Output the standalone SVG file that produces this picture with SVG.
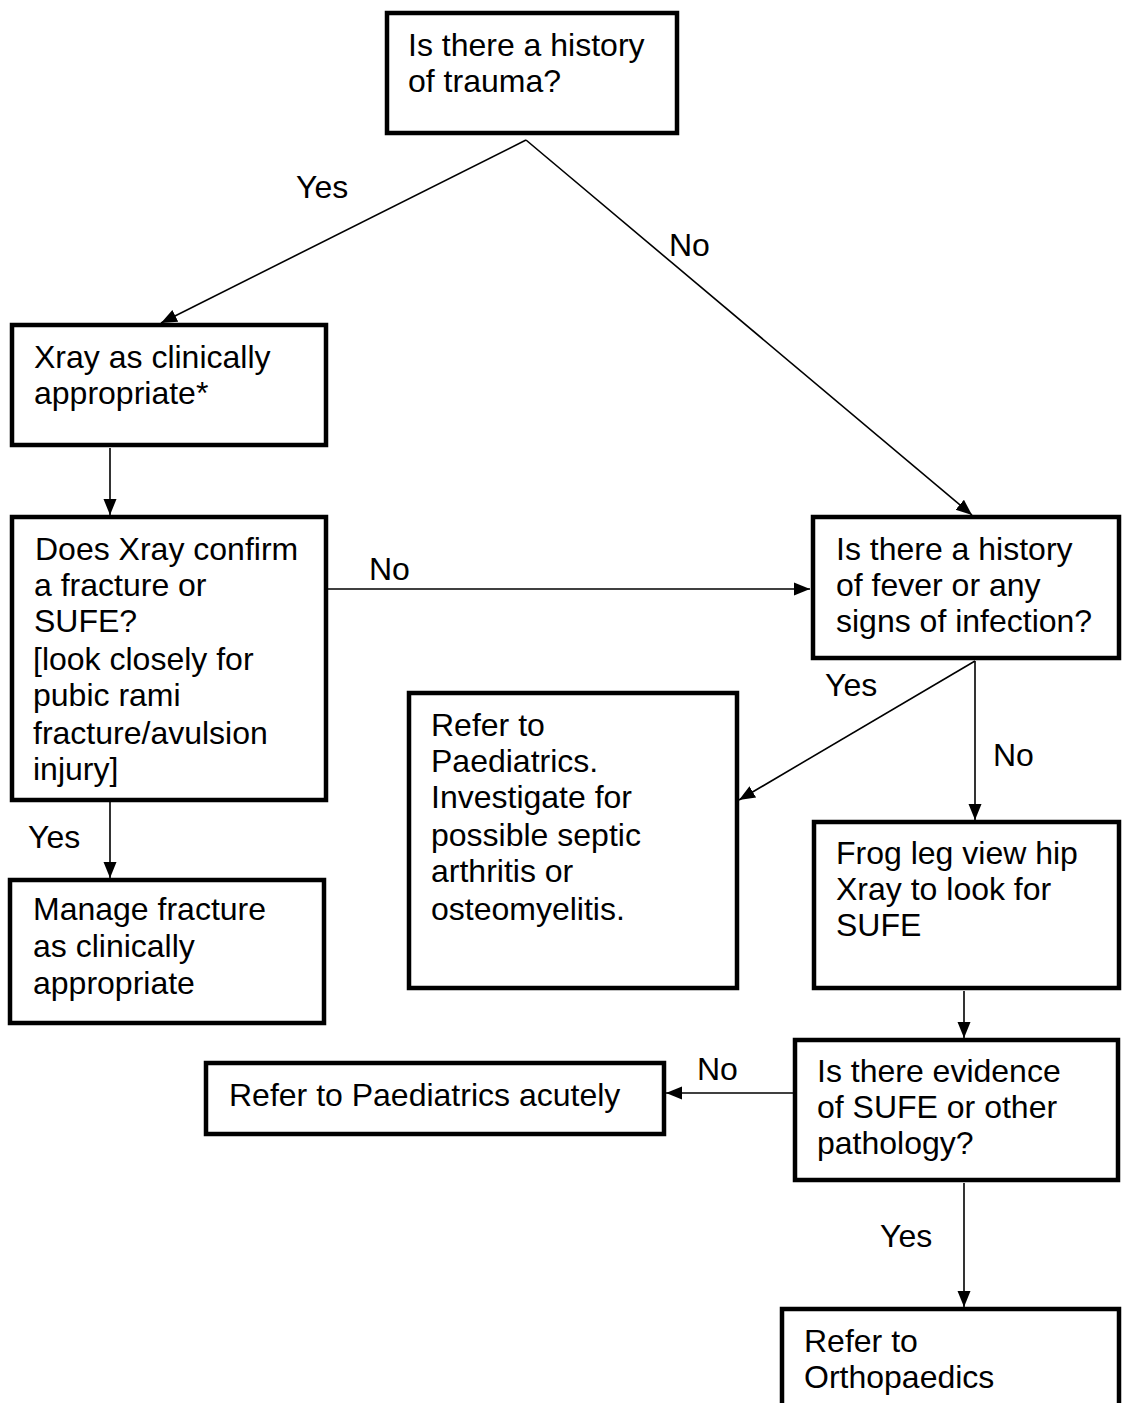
<svg xmlns="http://www.w3.org/2000/svg" width="1122" height="1403" viewBox="0 0 1122 1403">
<style>
.box{fill:#fff;stroke:#000;stroke-width:4.5}
.t{font-family:"Liberation Sans",Arial,sans-serif;font-size:32px;fill:#000}
.c{stroke:#000;stroke-width:1.6;fill:none;marker-end:url(#ah)}
</style>
<defs>
<marker id="ah" markerUnits="userSpaceOnUse" markerWidth="18" markerHeight="16" viewBox="0 0 18 16" refX="16" refY="8" orient="auto">
<path d="M0,1.5 L16,8 L0,14.5 Z" fill="#000"/>
</marker>
</defs>
<rect width="1122" height="1403" fill="#fff"/>
<g id="connectors">
<path class="c" d="M526,140 L161,323"/>
<path class="c" d="M526,140 L972,515"/>
<path class="c" d="M110,448 L110,515"/>
<path class="c" d="M328,589 L810,589"/>
<path class="c" d="M975,661 L739,800"/>
<path class="c" d="M975,661 L975,820"/>
<path class="c" d="M110,802 L110,878"/>
<path class="c" d="M964,991 L964,1038"/>
<path class="c" d="M793,1093 L666,1093"/>
<path class="c" d="M964,1183 L964,1307"/>
<text class="t" x="296" y="198">Yes</text>
<text class="t" x="669" y="256">No</text>
<text class="t" x="369" y="580">No</text>
<text class="t" x="825" y="696">Yes</text>
<text class="t" x="993" y="766">No</text>
<text class="t" x="28" y="848">Yes</text>
<text class="t" x="697" y="1080">No</text>
<text class="t" x="880" y="1247">Yes</text>
</g>
<g id="n1"><rect class="box" x="387" y="13" width="290" height="120"/>
<text class="t" x="408" y="56">Is there a history</text><text class="t" x="408" y="92">of trauma?</text></g>
<g id="n2"><rect class="box" x="12" y="325" width="314" height="120"/>
<text class="t" x="34" y="368">Xray as clinically</text><text class="t" x="34" y="404">appropriate*</text></g>
<g id="n3"><rect class="box" x="12" y="517" width="314" height="283"/>
<text class="t" x="35" y="560">Does Xray confirm</text>
<text class="t" x="34" y="596">a fracture or</text>
<text class="t" x="34" y="632">SUFE?</text>
<text class="t" x="33" y="670">[look closely for</text>
<text class="t" x="33" y="706">pubic rami</text>
<text class="t" x="33" y="744">fracture/avulsion</text>
<text class="t" x="33" y="780">injury]</text></g>
<g id="n4"><rect class="box" x="10" y="880" width="314" height="143"/>
<text class="t" x="33" y="920">Manage fracture</text>
<text class="t" x="33" y="957">as clinically</text>
<text class="t" x="33" y="994">appropriate</text></g>
<g id="n5"><rect class="box" x="813" y="517" width="306" height="141"/>
<text class="t" x="836" y="560">Is there a history</text>
<text class="t" x="836" y="596">of fever or any</text>
<text class="t" x="836" y="632">signs of infection?</text></g>
<g id="n6"><rect class="box" x="409" y="693" width="328" height="295"/>
<text class="t" x="431" y="736">Refer to</text>
<text class="t" x="431" y="772">Paediatrics.</text>
<text class="t" x="431" y="808">Investigate for</text>
<text class="t" x="431" y="846">possible septic</text>
<text class="t" x="431" y="882">arthritis or</text>
<text class="t" x="431" y="920">osteomyelitis.</text></g>
<g id="n7"><rect class="box" x="814" y="822" width="305" height="166"/>
<text class="t" x="836" y="864">Frog leg view hip</text>
<text class="t" x="836" y="900">Xray to look for</text>
<text class="t" x="836" y="936">SUFE</text></g>
<g id="n8"><rect class="box" x="795" y="1040" width="323" height="140"/>
<text class="t" x="817" y="1082">Is there evidence</text>
<text class="t" x="817" y="1118">of SUFE or other</text>
<text class="t" x="817" y="1154">pathology?</text></g>
<g id="n9"><rect class="box" x="206" y="1063" width="458" height="71"/>
<text class="t" x="229" y="1106">Refer to Paediatrics acutely</text></g>
<g id="n10"><rect class="box" x="782" y="1309" width="337" height="110"/>
<text class="t" x="804" y="1352">Refer to</text>
<text class="t" x="804" y="1388">Orthopaedics</text></g>
</svg>
